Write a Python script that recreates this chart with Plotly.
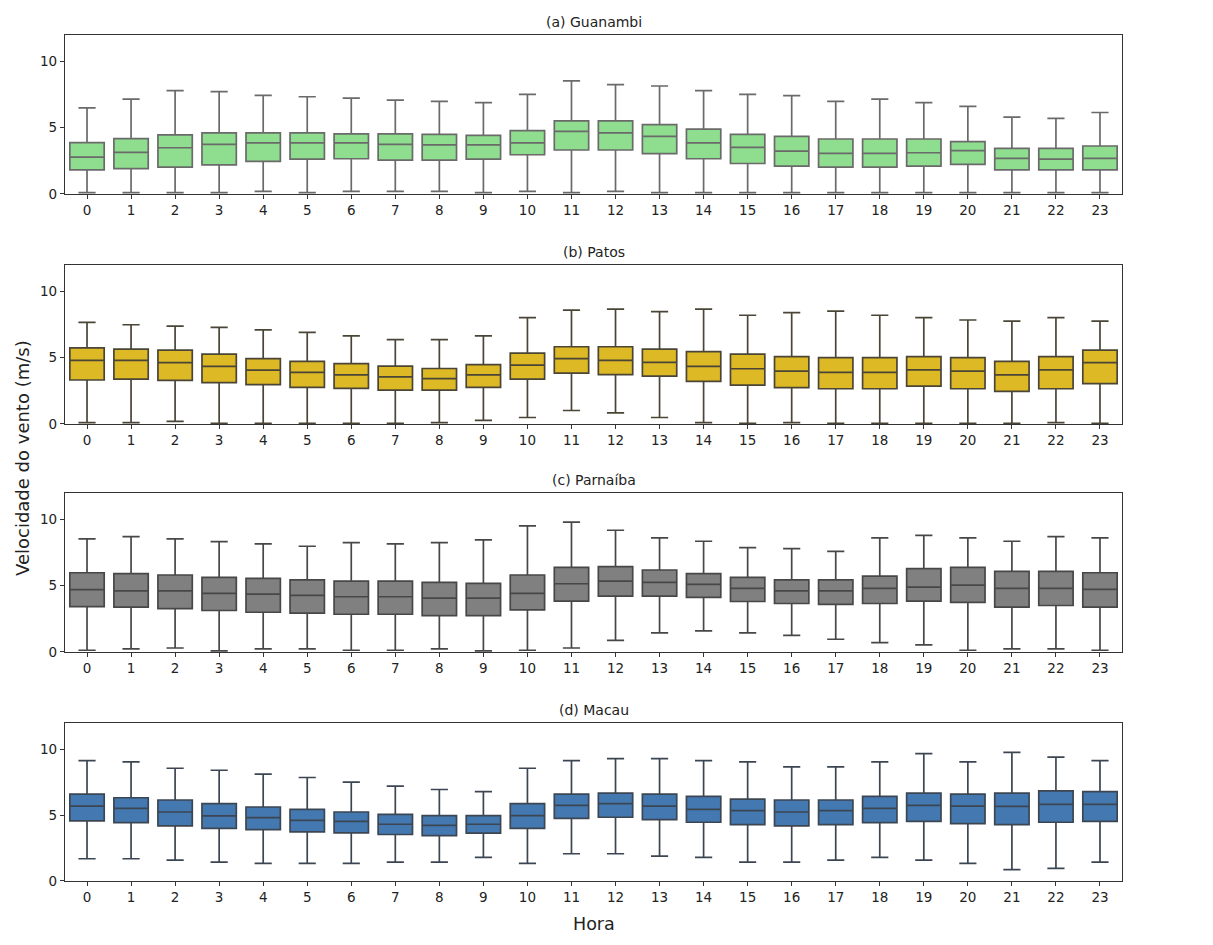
import plotly.graph_objects as go

hours = list(range(24))

stations = ["(a) Guanambi", "(b) Patos", "(c) Parnaíba", "(d) Macau"]

# Guanambi
g_upper = [6.5, 7.16, 7.8, 7.72, 7.44, 7.34, 7.24, 7.09, 6.99, 6.89, 7.52, 8.53,
           8.25, 8.15, 7.8, 7.52, 7.42, 6.99, 7.16, 6.89, 6.61, 5.8, 5.7, 6.15]
g_q3 = [3.87, 4.18, 4.46, 4.61, 4.61, 4.61, 4.53, 4.53, 4.5, 4.43, 4.78, 5.52,
        5.52, 5.24, 4.89, 4.5, 4.35, 4.15, 4.15, 4.15, 3.95, 3.44, 3.44, 3.62]
g_med = [2.78, 3.14, 3.49, 3.75, 3.85, 3.85, 3.85, 3.75, 3.7, 3.7, 3.85, 4.73,
         4.61, 4.35, 3.85, 3.52, 3.24, 3.06, 3.06, 3.11, 3.27, 2.68, 2.63, 2.68]
g_q1 = [1.82, 1.92, 2.03, 2.2, 2.46, 2.63, 2.66, 2.56, 2.56, 2.63, 2.96, 3.32,
        3.32, 3.04, 2.66, 2.3, 2.1, 2.03, 2.03, 2.1, 2.23, 1.82, 1.82, 1.82]
g_lower = [0.1, 0.1, 0.1, 0.1, 0.2, 0.1, 0.2, 0.2, 0.2, 0.1, 0.2, 0.1,
           0.2, 0.1, 0.1, 0.1, 0.1, 0.1, 0.1, 0.1, 0.1, 0.1, 0.1, 0.1]

# Patos
p_upper = [7.67, 7.49, 7.39, 7.29, 7.11, 6.91, 6.65, 6.37, 6.37, 6.65, 8.03, 8.59,
           8.67, 8.49, 8.67, 8.21, 8.41, 8.52, 8.21, 8.03, 7.85, 7.77, 8.03, 7.77]
p_q3 = [5.75, 5.65, 5.58, 5.27, 4.94, 4.73, 4.55, 4.37, 4.19, 4.48, 5.35, 5.83,
        5.83, 5.65, 5.47, 5.27, 5.09, 5.01, 5.01, 5.09, 5.01, 4.73, 5.09, 5.58]
p_med = [4.81, 4.81, 4.63, 4.35, 4.07, 3.89, 3.71, 3.55, 3.43, 3.71, 4.45, 4.94,
         4.81, 4.65, 4.35, 4.17, 3.99, 3.89, 3.89, 4.09, 3.99, 3.71, 4.09, 4.63]
p_q1 = [3.32, 3.38, 3.3, 3.12, 2.97, 2.76, 2.69, 2.56, 2.56, 2.76, 3.38, 3.84,
        3.73, 3.61, 3.22, 2.94, 2.74, 2.66, 2.66, 2.86, 2.66, 2.46, 2.66, 3.04]
p_lower = [0.1, 0.1, 0.2, 0.05, 0.05, 0.05, 0.05, 0.05, 0.1, 0.28, 0.49, 1.02,
           0.84, 0.49, 0.1, 0.05, 0.1, 0.05, 0.05, 0.05, 0.05, 0.05, 0.1, 0.05]

# Parnaíba
c_upper = [8.54, 8.71, 8.54, 8.33, 8.16, 7.98, 8.26, 8.16, 8.26, 8.46, 9.52, 9.8,
           9.19, 8.61, 8.36, 7.88, 7.8, 7.6, 8.61, 8.81, 8.61, 8.36, 8.71, 8.61]
c_q3 = [5.98, 5.91, 5.81, 5.63, 5.56, 5.45, 5.35, 5.35, 5.25, 5.18, 5.81, 6.39,
        6.44, 6.19, 5.91, 5.63, 5.45, 5.45, 5.73, 6.29, 6.39, 6.09, 6.09, 5.98]
c_med = [4.7, 4.62, 4.62, 4.42, 4.37, 4.27, 4.17, 4.17, 4.07, 4.07, 4.42, 5.15,
         5.35, 5.25, 5.1, 4.8, 4.62, 4.62, 4.8, 4.9, 5.05, 4.8, 4.8, 4.72]
c_q1 = [3.43, 3.38, 3.28, 3.13, 3.0, 2.93, 2.85, 2.85, 2.75, 2.75, 3.18, 3.84,
        4.22, 4.22, 4.12, 3.81, 3.66, 3.59, 3.66, 3.84, 3.74, 3.38, 3.51, 3.38]
c_lower = [0.13, 0.23, 0.3, 0.08, 0.23, 0.23, 0.13, 0.13, 0.23, 0.08, 0.13, 0.3,
           0.88, 1.44, 1.59, 1.44, 1.26, 0.96, 0.71, 0.53, 0.13, 0.23, 0.23, 0.13]

# Macau
m_upper = [9.14, 9.04, 8.56, 8.41, 8.11, 7.86, 7.51, 7.2, 6.95, 6.78, 8.56, 9.14,
           9.29, 9.29, 9.14, 9.04, 8.67, 8.67, 9.04, 9.67, 9.04, 9.77, 9.4, 9.14]
m_q3 = [6.6, 6.32, 6.15, 5.87, 5.62, 5.44, 5.24, 5.06, 4.96, 4.96, 5.87, 6.6,
        6.68, 6.6, 6.42, 6.22, 6.15, 6.15, 6.42, 6.68, 6.6, 6.68, 6.85, 6.78]
m_med = [5.69, 5.52, 5.24, 4.94, 4.81, 4.61, 4.53, 4.31, 4.23, 4.31, 4.96, 5.74,
         5.87, 5.69, 5.44, 5.34, 5.24, 5.34, 5.52, 5.74, 5.69, 5.67, 5.82, 5.82]
m_q1 = [4.56, 4.43, 4.18, 4.0, 3.9, 3.73, 3.65, 3.53, 3.45, 3.63, 4.0, 4.76,
        4.84, 4.66, 4.46, 4.28, 4.18, 4.28, 4.43, 4.53, 4.36, 4.28, 4.46, 4.53]
m_lower = [1.69, 1.69, 1.59, 1.44, 1.34, 1.34, 1.34, 1.44, 1.44, 1.79, 1.34, 2.07,
           2.07, 1.89, 1.79, 1.44, 1.44, 1.59, 1.79, 1.59, 1.34, 0.86, 0.96, 1.44]

data = [
    (g_lower, g_q1, g_med, g_q3, g_upper),
    (p_lower, p_q1, p_med, p_q3, p_upper),
    (c_lower, c_q1, c_med, c_q3, c_upper),
    (m_lower, m_q1, m_med, m_q3, m_upper),
]
fills = ["#8FDE8F", "#DDB925", "#808080", "#4379B0"]
edges = ["#6A6A6A", "#4A4536", "#474747", "#3C4652"]

# plot-area domains (paper fractions, bottom->top)
domains = [(0.8121, 1.0), (0.5402, 0.7281), (0.2707, 0.4586), (0.0, 0.1868)]

FONT = "DejaVu Sans"
fig = go.Figure()
for i, (stats, fill, edge) in enumerate(zip(data, fills, edges)):
    lo, q1, med, q3, up = stats
    ax = "" if i == 0 else str(i + 1)
    fig.add_trace(go.Box(
        x=hours, q1=q1, median=med, q3=q3, lowerfence=lo, upperfence=up,
        fillcolor=fill, line=dict(color=edge, width=1.7),
        width=0.78, whiskerwidth=0.5, boxpoints=False,
        xaxis="x" + ax, yaxis="y" + ax, showlegend=False,
    ))

# page body has an 8px default margin, so the figure is sized to fit inside
layout = dict(
    width=1197, height=929,
    margin=dict(l=57, r=83, t=27, b=56),
    paper_bgcolor="white", plot_bgcolor="white",
    font=dict(family=FONT, size=13, color="#222222"),
    showlegend=False,
)
annotations = []
for i in range(4):
    ax = "" if i == 0 else str(i + 1)
    layout["xaxis" + ax] = dict(
        domain=[0, 1], anchor="y" + ax, range=[-0.5, 23.5],
        tickmode="array", tickvals=hours, ticktext=[str(h) for h in hours],
        showline=True, mirror=True, linecolor="#333333", linewidth=1.2,
        ticks="outside", ticklen=4, tickcolor="#333333", tickwidth=1,
        showgrid=False, zeroline=False, tickfont=dict(size=13.5),
    )
    layout["yaxis" + ax] = dict(
        domain=list(domains[i]), anchor="x" + ax, range=[0, 12],
        tickmode="array", tickvals=[0, 5, 10],
        showline=True, mirror=True, linecolor="#333333", linewidth=1.2,
        ticks="outside", ticklen=4, tickcolor="#333333", tickwidth=1,
        showgrid=False, zeroline=False, tickfont=dict(size=13.5),
    )
    annotations.append(dict(
        text=stations[i], x=0.5, y=domains[i][1], xref="paper", yref="paper",
        xanchor="center", yanchor="bottom", yshift=3, showarrow=False,
        font=dict(size=14, family=FONT, color="#222222"),
    ))

annotations.append(dict(
    text="Velocidade do vento (m/s)", x=0, y=0.5, xref="paper", yref="paper",
    xanchor="center", yanchor="middle", xshift=-43, textangle=-90,
    showarrow=False, font=dict(size=18, family=FONT, color="#222222"),
))
annotations.append(dict(
    text="Hora", x=0.5, y=0, xref="paper", yref="paper",
    xanchor="center", yanchor="bottom", yshift=-55,
    showarrow=False, font=dict(size=17.5, family=FONT, color="#222222"),
))
layout["annotations"] = annotations
fig.update_layout(**layout)

fig.write_html("out.html")
